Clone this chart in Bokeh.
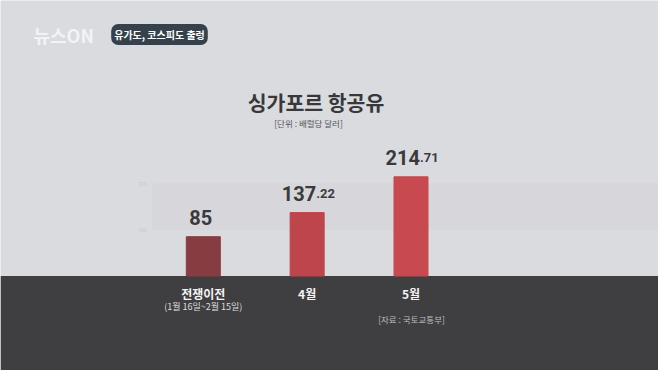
from bokeh.plotting import figure
from bokeh.models import Range1d, BoxAnnotation, Label, ColumnDataSource
from bokeh.core.properties import value
from bokeh.embed import file_html
from bokeh.resources import INLINE

# ---- data ----
categories = ["전쟁이전", "4월", "5월"]
category_notes = ["(1월 16일~2월 15일)", "", ""]
prices = [85, 137.22, 214.71]
bar_colors = ["#873c41", "#bd454b", "#c8494f"]
grid_ticks = [100, 200]
grid_labels = ["100", "200"]

title = "싱가포르 항공유"
unit_note = "[단위 : 배럴당 달러]"
source_note = "[자료 : 국토교통부]"
tag_text = "유가도, 코스피도 출렁"
logo_text = "뉴스ON"

KR = "Noto Sans CJK KR"

# ---- layout helpers (pixel geometry of the picture) ----
W, H = 658, 370
X0, DX = 202.8, 103.85      # px of first category, px per category
BASE, PPU = 275.5, 0.462    # px (from top) of zero line, px per unit


def px2x(px):
    return (px - X0) / DX


def px2y(py):
    return (BASE - py) / PPU


idx = list(range(len(categories)))
int_parts = [f"{v:g}".split(".")[0] for v in prices]
dec_parts = [("." + f"{v:g}".split(".")[1]) if "." in f"{v:g}" else "" for v in prices]

src = ColumnDataSource(dict(x=idx, top=prices, color=bar_colors, cat=categories,
                            note=category_notes, ip=int_parts, dp=dec_parts))

p = figure(width=W, height=H, output_backend="svg", toolbar_location=None,
           x_range=Range1d(-X0 / DX, (W - X0) / DX),
           y_range=Range1d(-(H - BASE) / PPU, BASE / PPU),
           min_border=0, outline_line_color=None)
p.axis.visible = False
p.grid.visible = False
p.background_fill_color = "#dadbdf"
p.border_fill_color = "#dadbdf"

# faint plot band between grid ticks
p.add_layout(BoxAnnotation(bottom=grid_ticks[0], top=grid_ticks[1], left=px2x(152),
                           fill_color="#cfd0d4", fill_alpha=0.4, line_color=None,
                           level="underlay"))
for t, lab in zip(grid_ticks, grid_labels):
    p.add_layout(Label(x=px2x(142), y=t, text=lab, text_font="Roboto",
                       text_font_size="5px", text_color="#c8c8cc",
                       text_align="center", text_baseline="middle"))

# dark bottom band
p.add_layout(BoxAnnotation(top=0, fill_color="#3f3f41", fill_alpha=1.0,
                           line_color=None, level="underlay"))

# bars
p.vbar(x="x", top="top", bottom=0, width=34 / DX, color="color", source=src)

# value labels
p.text(x="x", y="top", text="ip", source=src, text_align="right", x_offset=9,
       y_offset=-19, text_baseline="alphabetic", text_font=value("Roboto"),
       text_font_style="bold", text_font_size="20px", text_color="#3a3a3c")
p.text(x="x", y="top", text="dp", source=src, text_align="left", x_offset=9,
       y_offset=-19, text_baseline="alphabetic", text_font=value("Roboto"),
       text_font_style="bold", text_font_size="13px", text_color="#3a3a3c")

# category labels
p.text(x="x", y=px2y(293), text="cat", source=src, text_align="center",
       text_baseline="middle", text_font=value(KR), text_font_style="bold",
       text_font_size="12px", text_color="#f4f4f4")
p.text(x="x", y=px2y(305.5), text="note", source=src, text_align="center",
       text_baseline="middle", text_font=value(KR), text_font_size="9px",
       text_color="#dedede")

p.add_layout(Label(x=px2x(411), y=px2y(318), text=source_note, text_font=KR,
                   text_font_size="8.5px", text_color="#bdbdbd",
                   text_align="center", text_baseline="middle"))

# titles
p.add_layout(Label(x=px2x(315.5), y=px2y(101), text=title, text_font=KR,
                   text_font_style="bold", text_font_size="20.5px",
                   text_color="#38383a", text_align="center",
                   text_baseline="middle"))
p.add_layout(Label(x=px2x(308), y=px2y(122), text=unit_note, text_font=KR,
                   text_font_size="8.5px", text_color="#55555a",
                   text_align="center", text_baseline="middle"))

# logo and tag
p.add_layout(Label(x=px2x(33), y=px2y(34), text=logo_text, text_font=KR,
                   text_font_style="bold", text_font_size="18px",
                   text_color="#f3f3f5", text_align="left",
                   text_baseline="middle"))
p.add_layout(Label(x=px2x(159), y=px2y(34), text=tag_text, text_font=KR,
                   text_font_style="bold", text_font_size="10px",
                   text_color="#ffffff", text_align="center",
                   text_baseline="middle", background_fill_color="#36424b",
                   padding=3, border_radius=7))

open("out.html", "w").write(file_html(p, INLINE))
